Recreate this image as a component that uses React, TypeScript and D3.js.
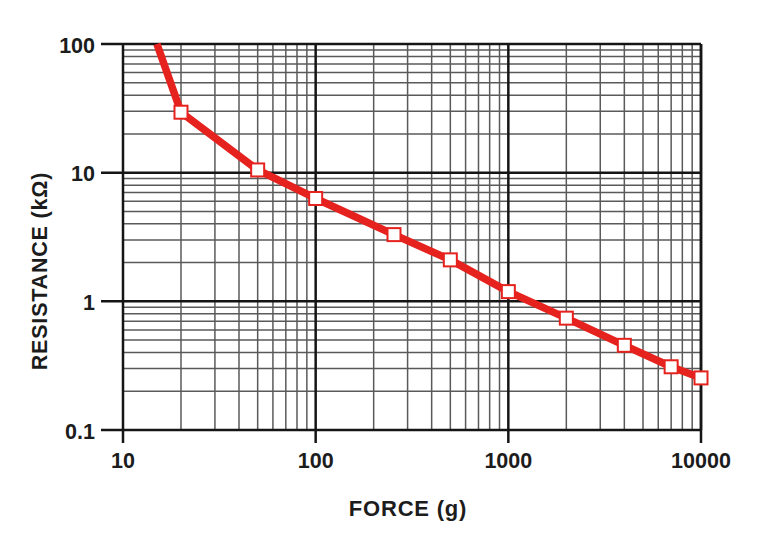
import React from "react";
import * as d3 from "d3";

const forceValues = [15, 20, 50, 100, 255, 500, 1000, 2000, 4000, 7000, 10000];
const resistanceValues = [100, 29.5, 10.5, 6.3, 3.3, 2.1, 1.19, 0.74, 0.455, 0.31, 0.254];
const markerFlags = [false, true, true, true, true, true, true, true, true, true, true];
const xTickLabels = ["10", "100", "1000", "10000"];
const yTickLabels = ["0.1", "1", "10", "100"];
const xTitle = "FORCE (g)";
const yTitle = "RESISTANCE (kΩ)";

const W = 757;
const H = 551;
const L = 123, R = 701, T = 44, B = 430;

export default function App() {
  const x = d3.scaleLog().domain([10, 10000]).range([L, R]);
  const y = d3.scaleLog().domain([0.1, 100]).range([B, T]);

  const minorX: number[] = [];
  for (let d = 10; d < 10000; d *= 10) for (let k = 2; k <= 9; k++) minorX.push(d * k);
  const minorY: number[] = [];
  for (let d = 0.1; d < 99; d *= 10) for (let k = 2; k <= 9; k++) minorY.push(d * k);

  const pts = forceValues.map((f, i) => ({ f, r: resistanceValues[i], m: markerFlags[i] }));
  const line = d3.line<{ f: number; r: number }>().x(d => x(d.f)).y(d => y(d.r));

  const font = "'Liberation Sans', Arial, sans-serif";
  const textColor = "#1c1c1c";

  return (
    <svg width={W} height={H} style={{ position: "absolute", left: 0, top: 0, background: "#fff" }}>
      {/* minor grid */}
      {minorX.map(v => (
        <line key={"mx" + v} x1={x(v)} x2={x(v)} y1={T} y2={B} stroke="#5a5a5a" strokeWidth={1.5} />
      ))}
      {minorY.map(v => (
        <line key={"my" + v} x1={L} x2={R} y1={y(v)} y2={y(v)} stroke="#5a5a5a" strokeWidth={1.5} />
      ))}
      {/* major grid & ticks */}
      {xTickLabels.map(t => {
        const v = +t;
        return (
          <g key={"X" + t}>
            <line x1={x(v)} x2={x(v)} y1={T} y2={B + 13} stroke="#151515" strokeWidth={2.5} />
            <text x={x(v)} y={468} textAnchor="middle" fontFamily={font} fontWeight="bold" fontSize={21.5} fill={textColor}>{t}</text>
          </g>
        );
      })}
      {yTickLabels.map(t => {
        const v = +t;
        return (
          <g key={"Y" + t}>
            <line x1={101} x2={R} y1={y(v)} y2={y(v)} stroke="#151515" strokeWidth={2.5} />
            <text x={95} y={y(v) + 8.5} textAnchor="end" fontFamily={font} fontWeight="bold" fontSize={21.5} fill={textColor}>{t}</text>
          </g>
        );
      })}
      <line x1={R} x2={R} y1={T} y2={B} stroke="#151515" strokeWidth={2.5} />
      {/* data line */}
      <path d={line(pts) || ""} fill="none" stroke="#e6221e" strokeWidth={7.5} strokeLinejoin="round" strokeLinecap="butt" />
      {pts.filter(p => p.m).map((p, i) => (
        <rect key={"m" + i} x={x(p.f) - 6.5} y={y(p.r) - 6.5} width={13} height={13} fill="#fff" stroke="#e6221e" strokeWidth={2} />
      ))}
      {/* titles */}
      <text x={408} y={516} textAnchor="middle" fontFamily={font} fontWeight="bold" fontSize={22} letterSpacing={0.8} fill={textColor}>{xTitle}</text>
      <text transform={`translate(47,271) rotate(-90)`} textAnchor="middle" fontFamily={font} fontWeight="bold" fontSize={21.5} letterSpacing={0.8} fill={textColor}>{yTitle}</text>
    </svg>
  );
}
